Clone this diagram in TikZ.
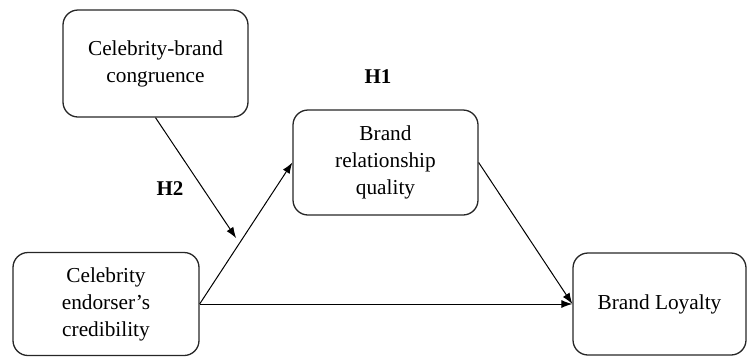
\documentclass[tikz,border=0pt]{standalone}
\usepackage{fontspec}
\setmainfont{Liberation Serif}
\usetikzlibrary{arrows.meta,calc}
\begin{document}
\begin{tikzpicture}[x=1pt,y=-1pt,
  box/.style={draw=black!85,line width=1.3pt,rounded corners=15pt,align=center,
    font=\fontsize{21.3}{27}\selectfont,inner sep=2pt},
  conn/.style={line width=1pt,-{Latex[length=11pt,width=8pt]}},
  hlab/.style={font=\fontsize{21}{24}\selectfont\bfseries}]
\useasboundingbox (0,0) rectangle (747,357);
\node[box,minimum width=185pt,minimum height=107pt] (cbc) at (155.5,63.5) {Celebrity-brand\\congruence};
\node[box,minimum width=185pt,minimum height=105pt] (brq) at (385.5,162.5) {Brand\\relationship\\quality};
\node[box,minimum width=186pt,minimum height=103pt] (ecc) at (106,304) {Celebrity\\endorser's\\credibility};
\node[box,minimum width=173pt,minimum height=102pt] (bl) at (659.5,304) {Brand Loyalty};
\node[hlab] (h1) at (378,77) {H1};
\node[hlab] (h2) at (170,189) {H2};
\coordinate (mod) at ($(ecc.east)!0.43!(brq.west)$);
\draw[conn] (ecc.east) -- (brq.west);
\draw[conn] (ecc.east) -- (bl.west);
\draw[conn] (brq.east) -- (bl.west);
\draw[conn,shorten >=6pt] (cbc.south) -- (mod);
\end{tikzpicture}
\end{document}
